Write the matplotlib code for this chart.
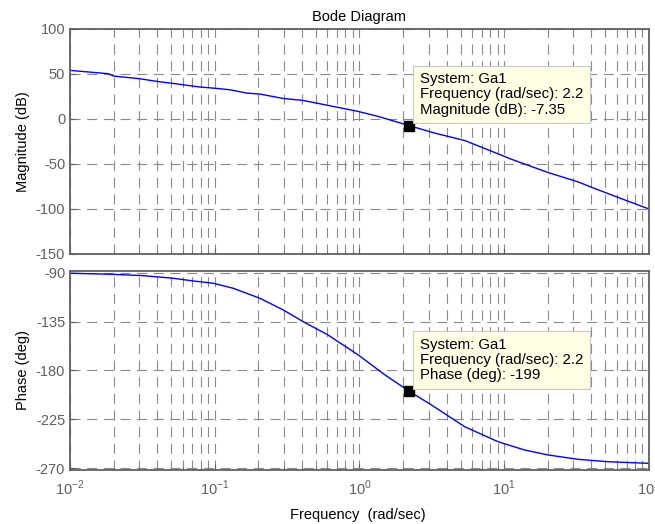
import numpy as np
import matplotlib
matplotlib.use('Agg')
import matplotlib.pyplot as plt

plt.rcParams['font.family'] = ['Liberation Sans', 'DejaVu Sans']
plt.rcParams['mathtext.fontset'] = 'custom'
plt.rcParams['mathtext.rm'] = 'Liberation Sans'
plt.rcParams['axes.unicode_minus'] = False

# 幅频数据
mag_freq = [0.01, 0.0184, 0.020, 0.0304, 0.0396, 0.0516, 0.079, 0.0977, 0.127,
            0.166, 0.205, 0.297, 0.408, 0.624, 0.98, 1.35, 2.2, 3.31, 5.33,
            9.06, 11.2, 20.1, 32.4, 40.0, 67.9, 100]
mag_db = [54, 50.3, 47.7, 44.7, 41.8, 39.5, 35.5, 34.3, 32.5,
          28.8, 27.7, 22.8, 20.6, 14.7, 8.4, 2.8, -7.35, -15.7, -23.9,
          -38.7, -44.7, -59.5, -69.9, -75.8, -89.9, -100]

# 相频数据
phase_freq = [0.01, 0.0189, 0.032, 0.0516, 0.0711, 0.0977, 0.134, 0.205, 0.297,
              0.408, 0.6, 0.98, 1.50, 2.2, 3.14, 5.33, 9.06, 13.8, 20.1,
              32.4, 52.1, 100]
phase_deg = [-90.6, -91.5, -92.8, -95.2, -97.7, -99.8, -104.4, -113.6, -124.3,
             -135.1, -147, -165.7, -184.1, -199, -211.7, -231.7, -245.5, -253.1, -257.7,
             -261.7, -263.9, -265.4]

# 数据游标
cursor_freq = 2.2
cursor_mag = -7.35
cursor_phase = -199

mag_ticks = [-150, -100, -50, 0, 50, 100]
phase_ticks = [-270, -225, -180, -135, -90]
x_ticks = [1e-2, 1e-1, 1e0, 1e1, 1e2]
x_ticklabels = ['$10^{-2}$', '$10^{-1}$', '$10^{0}$', '$10^{1}$', '$10^{2}$']

fig = plt.figure(figsize=(6.55, 5.24), dpi=100)
ax1 = fig.add_axes([0.1069, 0.5153, 0.8839, 0.4294])
ax2 = fig.add_axes([0.1069, 0.1031, 0.8839, 0.3798])

grid_kw = dict(color='#8a8a8a', linestyle=(0, (9, 6)), linewidth=0.8)

for ax in (ax1, ax2):
    ax.set_xscale('log')
    ax.set_xlim(1e-2, 1e2)
    ax.set_xticks(x_ticks)
    ax.grid(True, which='major', axis='both', **grid_kw)
    ax.grid(True, which='minor', axis='x', **grid_kw)
    ax.tick_params(which='both', direction='in', colors='#606060', labelsize=10.5,
                   labelcolor='#606060')
    ax.tick_params(which='major', length=4)
    ax.tick_params(which='minor', length=2)
    ax.tick_params(axis='x', pad=6)
    for s in ax.spines.values():
        s.set_color('#606060')
        s.set_linewidth(1.3)
    ax.set_axisbelow(True)

ax1.plot(mag_freq, mag_db, color='#0000ff', lw=1)
ax1.set_ylim(-150, 100)
ax1.set_yticks(mag_ticks)
ax1.set_xticklabels([])
ax1.set_ylabel('Magnitude (dB)', fontsize=10.5)
ax1.set_title('Bode Diagram', fontsize=10.5, pad=6)

ax2.plot(phase_freq, phase_deg, color='#0000ff', lw=1)
ax2.set_ylim(-271.5, -88.5)
ax2.set_yticks(phase_ticks)
ax2.set_xticklabels(x_ticklabels)
ax2.set_ylabel('Phase (deg)', fontsize=10.5)
fig.text(0.547, 1 - 515 / 524, 'Frequency  (rad/sec)', fontsize=10.5,
         ha='center', va='center')

box = dict(boxstyle='square,pad=0.45', facecolor='#ffffe6', edgecolor='#c8c8c8', lw=0.8)

ax1.plot(cursor_freq, cursor_mag, 's', color='black', ms=6.5, zorder=5)
ax1.annotate('System: Ga1\nFrequency (rad/sec): %s\nMagnitude (dB): %s' % (cursor_freq, cursor_mag),
             xy=(cursor_freq, cursor_mag), xytext=(11, 9), textcoords='offset pixels',
             ha='left', va='bottom', fontsize=10.8, bbox=box, linespacing=1.1, zorder=6)

ax2.plot(cursor_freq, cursor_phase, 's', color='black', ms=6.5, zorder=5)
ax2.annotate('System: Ga1\nFrequency (rad/sec): %s\nPhase (deg): %s' % (cursor_freq, cursor_phase),
             xy=(cursor_freq, cursor_phase), xytext=(11, 9), textcoords='offset pixels',
             ha='left', va='bottom', fontsize=10.8, bbox=box, linespacing=1.1, zorder=6)

fig.savefig('out.png', dpi=100)
